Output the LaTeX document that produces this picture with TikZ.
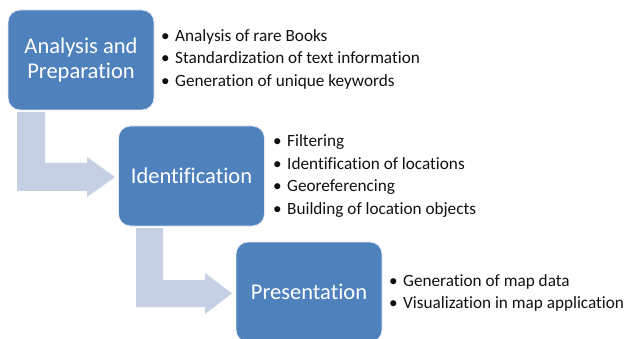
\documentclass[tikz,border=0pt]{standalone}
\usepackage{fontspec}
\setmainfont[Ligatures={NoCommon}]{Carlito}
\definecolor{boxblue}{HTML}{4F81BD}
\definecolor{arrowblue}{HTML}{C6D0E4}
\definecolor{bullettext}{HTML}{111111}
\newcommand{\bulletitem}{\makebox[14pt][l]{•}}
\begin{document}
\begin{tikzpicture}[x=1pt,y=-1pt,
  stage/.style={draw=white!85!boxblue, line width=0.8pt, fill=boxblue, rounded corners=12pt,
    minimum width=146pt, minimum height=100pt, text=white, align=center,
    font=\fontsize{22.5}{25}\selectfont, inner sep=0pt},
  bulletlist/.style={anchor=west, align=left, inner sep=0pt, text=bullettext,
    font=\fontsize{17.2}{22.5}\selectfont},
  bentarrow/.style={fill=arrowblue, draw=none}]
\useasboundingbox (0,0) rectangle (626,339);
\clip (0,0) rectangle (626,339);
% bent block arrows (behind boxes)
\draw[bentarrow] (17,112) -- (45,112) -- (45,163) -- (87,163) -- (87,157) -- (115,177)
  -- (87,197) -- (87,191) -- (17,191) -- cycle;
\draw[bentarrow] (136,228) -- (163,228) -- (163,280) -- (205,280) -- (205,273) -- (232,293.5)
  -- (205,314) -- (205,307) -- (136,307) -- cycle;
% stage boxes
\node[stage] (prep) at (81,60) {Analysis and\\Preparation};
\node[stage] (ident) at (191.5,176) {Identification};
\node[stage] (pres) at (309,292) {Presentation};
% bullet lists
\node[bulletlist] (list1) at (161,59) {\bulletitem Analysis of rare Books\\
  \bulletitem Standardization of text information\\
  \bulletitem Generation of unique keywords};
\node[bulletlist] (list2) at (273,176) {\bulletitem Filtering\\
  \bulletitem Identification of locations\\
  \bulletitem Georeferencing\\
  \bulletitem Building of location objects};
\node[bulletlist, font=\fontsize{17.2}{22}\selectfont] (list3) at (389,293) {\bulletitem Generation of map data\\
  \bulletitem Visualization in map application};
\end{tikzpicture}
\end{document}
